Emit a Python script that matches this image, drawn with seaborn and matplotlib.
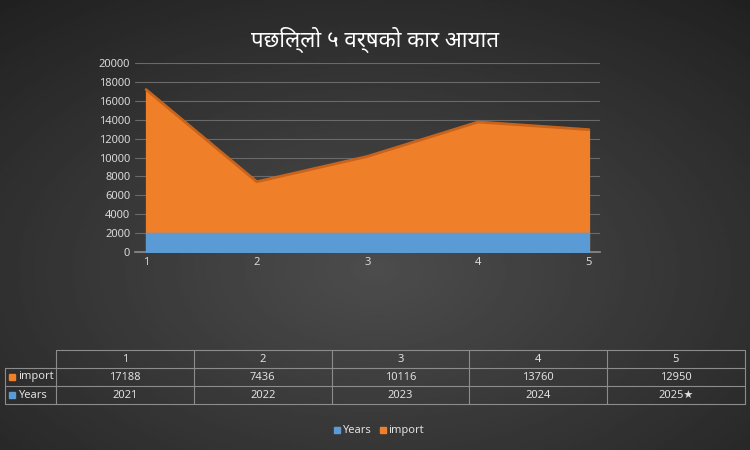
import numpy as np
import pandas as pd
import seaborn as sns
import matplotlib.pyplot as plt
from matplotlib.patches import Rectangle

title = 'पछिल्लो ५ वर्षको कार आयात'
points = [1, 2, 3, 4, 5]
imports = [17188, 7436, 10116, 13760, 12950]
years = [2021, 2022, 2023, 2024, 2025]
year_labels = ['2021', '2022', '2023', '2024', '2025★']

df = pd.DataFrame({'point': points, 'import': imports, 'Years': years})

sns.set_theme(style='dark')
plt.rcParams['font.family'] = ['Noto Sans', 'DejaVu Sans']

fig = plt.figure(figsize=(7.5, 4.5), dpi=100)

# dark radial background: lighter grey in the middle, near-black at the edges
bg = fig.add_axes([0, 0, 1, 1])
yy, xx = np.mgrid[0:1:200j, 0:1:300j]
r = np.sqrt((xx - 0.5) ** 2 + (yy - 0.6) ** 2)
bg.imshow(0.30 - 0.22 * r, cmap='gray', vmin=0, vmax=1, aspect='auto', extent=[0, 1, 0, 1])
bg.set_axis_off()

ax = fig.add_axes([0.18, 0.44, 0.62, 0.42])
ax.set_facecolor('none')
ax.fill_between(df['point'], df['import'], color='#f07f2a', zorder=2)
sns.lineplot(data=df, x='point', y='import', color='#c8631c', lw=2, ax=ax, zorder=3)
ax.fill_between(df['point'], df['Years'], color='#5b9bd5', zorder=4)
ax.set_xlim(0.9, 5.1)
ax.set_ylim(0, 20000)
ax.set_yticks(range(0, 20001, 2000))
ax.set_xticks(points)
ax.grid(axis='y', color='#6a6a6a', lw=0.8)
ax.tick_params(colors='#d9d9d9', labelsize=8, length=0)
ax.set_xlabel('')
ax.set_ylabel('')
for s in ax.spines.values():
    s.set_visible(False)
ax.spines['bottom'].set_visible(True)
ax.spines['bottom'].set_color('#8a8a8a')

fig.text(0.5, 0.895, title, ha='center', fontsize=16, fontweight='bold', color='white')

# data table
left, right, top, rh = 0.075, 0.993, 1 - 350 / 450, 18 / 450
col_w = (right - left) / 5
ov = fig.add_axes([0, 0, 1, 1])
ov.set_axis_off()
ov.set_xlim(0, 1)
ov.set_ylim(0, 1)
line_c = '#8c8c8c'
for i in range(4):
    y = top - i * rh
    x0 = left if i == 0 else 0.007
    ov.plot([x0, right], [y, y], color=line_c, lw=0.8)
for j in range(6):
    x = left + j * col_w
    ov.plot([x, x], [top, top - 3 * rh], color=line_c, lw=0.8)
ov.plot([0.007, 0.007], [top - rh, top - 3 * rh], color=line_c, lw=0.8)
for j, p in enumerate(points):
    cx = left + (j + 0.5) * col_w
    ov.text(cx, top - 0.5 * rh, str(p), ha='center', va='center', color='#e0e0e0', fontsize=8)
    ov.text(cx, top - 1.5 * rh, str(imports[j]), ha='center', va='center', color='#e0e0e0', fontsize=8)
    ov.text(cx, top - 2.5 * rh, year_labels[j], ha='center', va='center', color='#e0e0e0', fontsize=8)
for k, (name, c) in enumerate([('import', '#f07f2a'), ('Years', '#5b9bd5')]):
    yc = top - (1.5 + k) * rh
    ov.add_patch(Rectangle((0.012, yc - 0.007), 0.008, 0.014, color=c))
    ov.text(0.024, yc, name, va='center', color='#e0e0e0', fontsize=8)

# legend
for name, c, x in [('Years', '#5b9bd5', 0.445), ('import', '#f07f2a', 0.507)]:
    ov.add_patch(Rectangle((x, 0.037), 0.008, 0.014, color=c))
    ov.text(x + 0.011, 0.044, name, va='center', color='#e0e0e0', fontsize=8)

fig.savefig('out.png', dpi=100)
